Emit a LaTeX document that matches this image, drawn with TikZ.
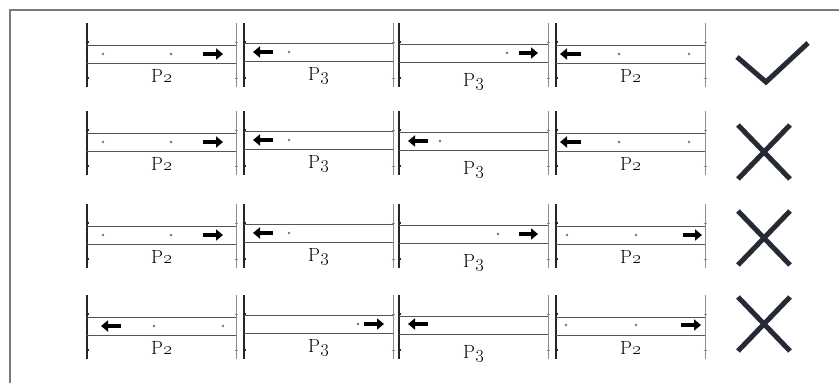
\RequirePackage{fix-cm}
\documentclass[tikz,border=0pt]{standalone}
\usepackage{tikz}
\usetikzlibrary{arrows.meta}
\definecolor{frameGray}{HTML}{7A7A7A}
\definecolor{laneGray}{HTML}{555555}
\definecolor{markDark}{HTML}{262A35}
\tikzset{
  frameline/.style={draw=frameGray, line width=1.3pt},
  laneline/.style={draw=laneGray, line width=0.9pt},
  postleft/.style={draw=black!85, line width=1.4pt},
  postright/.style={draw=black!45, line width=1pt},
  carpos/.style={fill=black!55},
  movearrow/.style={draw=black, line width=4pt, -{Triangle[length=7pt,width=11pt]}},
  verdict/.style={draw=markDark, line width=5pt},
  lanelabel/.style={anchor=base, font=\fontsize{19}{23}\selectfont, inner sep=0pt}
}

\begin{document}
\begin{tikzpicture}[x=1pt,y=-1pt]
  \useasboundingbox (0,0) rectangle (839,383);
  \draw[frameline] (10,383) -- (10,10) -- (839,10);
  % four rows of four lanes
  \foreach \top [count=\r] in {45,133,226,317}{
    \foreach \x/\lab/\drop/\shift [count=\c] in {87/2/19/0,244/3/19/-2,399/3/24/-1,556/2/19/0}{
      \draw[postleft] (\x,\top-22) -- (\x,\top+42);
      \draw[postright] (\x+149,\top-22) -- (\x+149,\top+42);
      \draw[postleft] (\x-1.5,\top-3) -- ++(3,0) (\x-1.5,\top+33) -- ++(3,0);
      \draw[postright] (\x+147.5,\top-3) -- ++(3,0) (\x+147.5,\top+33) -- ++(3,0);
      \draw[laneline] (\x,\top+\shift) -- (\x+149,\top+\shift)
                      (\x,\top+\shift+18) -- (\x+149,\top+\shift+18);
      \node[lanelabel] (lab\r\c) at (\x+74.5,\top+\shift+18+\drop) {P\oldstylenums{\lab}};
    }
  }
  % positions
  \foreach \px/\py in {103/54,171/54,289/52,507/53,619/54,689/54,
                       103/142,171/142,289/140,440/141,619/142,689/142,
                       103/235,171/235,289/233,498/234,567/235,636/235,
                       154/326,223/326,358/324,566/325,636/325}
    \fill[carpos] (\px,\py) circle (1.3);
  % moves
  \foreach \a/\b/\py in {203/223/54,273/253/52,519/538/53,581/560/54,
                         203/223/142,273/253/140,428/408/141,581/560/142,
                         203/223/235,273/253/233,519/538/234,683/702/235,
                         121/101/326,364/384/324,428/408/324,681/701/325}
    \draw[movearrow] (\a,\py) -- (\b,\py);
  % verdicts
  \draw[verdict] (737,57) -- (766,82) -- (808,43);
  \foreach \cy in {152,238,324}
    \draw[verdict] (738,\cy-27) -- (790,\cy+27) (738,\cy+27) -- (790,\cy-27);
\end{tikzpicture}
\end{document}
